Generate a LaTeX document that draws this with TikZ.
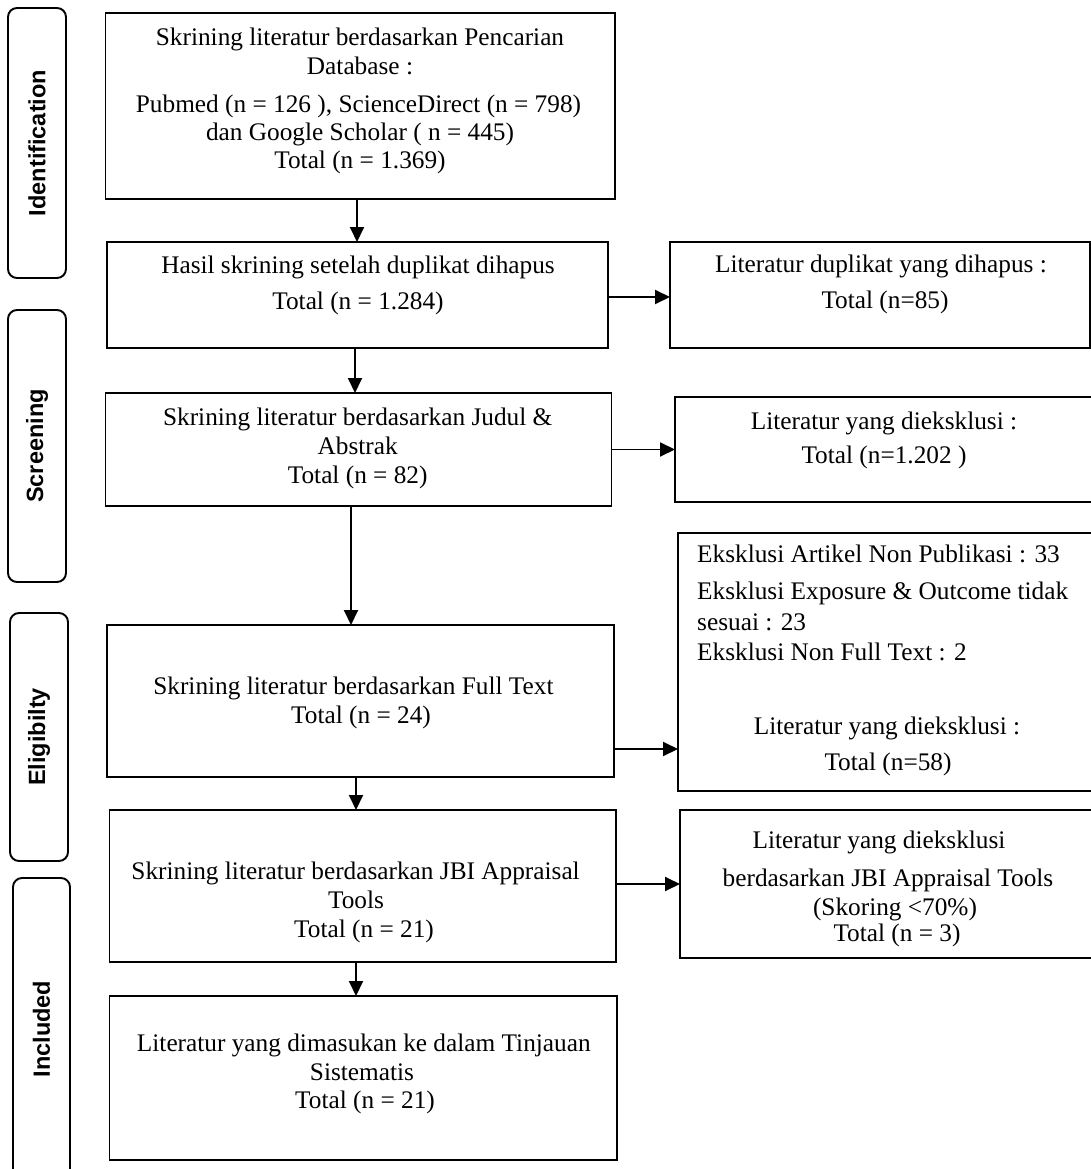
\documentclass[tikz,border=0pt]{standalone}
\usepackage{fontspec}
\setmainfont{Liberation Serif}
\newfontfamily\labfont{Liberation Sans}
\usetikzlibrary{arrows.meta}
\begin{document}
\begin{tikzpicture}[x=1pt,y=-1pt,
  box/.style={draw, line width=1.9pt, inner sep=0pt, outer sep=0pt},
  lab/.style={draw, line width=1.9pt, rounded corners=9pt, inner sep=0pt, outer sep=0pt, rotate=90, font=\labfont\bfseries\fontsize{23.5}{27}\selectfont},
  txt/.style={anchor=base, inner sep=0pt, font=\fontsize{25.3}{30}\selectfont},
  txtl/.style={anchor=base west, inner sep=0pt, font=\fontsize{25.3}{30}\selectfont},
  arr/.style={line width=1.9pt, -{Triangle[length=15pt,width=14pt]}}]
\useasboundingbox (0,0) rectangle (1091,1169);

% phase labels
\node[lab, minimum width=270pt, minimum height=58pt] (l1) at (37,143) {Identification};
\node[lab, minimum width=272pt, minimum height=58pt] (l2) at (37,446) {Screening};
\node[lab, minimum width=248pt, minimum height=58pt] (l3) at (39,737) {Eligibilty};
\node[lab, minimum width=302pt, minimum height=57pt] (l4) at (41.5,1029) {Included};

% main boxes
\node[box, minimum width=509.5pt, minimum height=186pt] (b1) at (360.25,106) {};
\node[box, minimum width=501pt, minimum height=106pt] (b2) at (357.5,295) {};
\node[box, minimum width=506pt, minimum height=113pt] (b3) at (358.5,449.5) {};
\node[box, minimum width=507pt, minimum height=152pt] (b4) at (360.5,701) {};
\node[box, minimum width=506.5pt, minimum height=152pt] (b5) at (362.75,886) {};
\node[box, minimum width=507.5pt, minimum height=164pt] (b6) at (363.25,1078) {};

% right boxes
\node[box, minimum width=420pt, minimum height=106pt] (r1) at (880,295) {};
\node[box, minimum width=420pt, minimum height=105pt] (r2) at (885,449.5) {};
\node[box, minimum width=417pt, minimum height=258pt] (r3) at (886.5,662) {};
\node[box, minimum width=415pt, minimum height=148pt] (r4) at (887.5,884) {};

% texts box 1
\node[txt] (t11) at (360,46) {Skrining literatur berdasarkan Pencarian};
\node[txt] (t12) at (360,75) {Database :};
\node[txt] (t13) at (358.5,113) {Pubmed (n = 126 ), ScienceDirect (n = 798)};
\node[txt] (t14) at (360,141) {dan Google Scholar ( n = 445)};
\node[txt] (t15) at (360,168) {Total (n = 1.369)};
% box 2
\node[txt] (t21) at (358,273) {Hasil skrining setelah duplikat dihapus};
\node[txt] (t22) at (358,309) {Total (n = 1.284)};
% box 3
\node[txt] (t31) at (357.7,425) {Skrining literatur berdasarkan Judul \&};
\node[txt] (t32) at (357.7,454) {Abstrak};
\node[txt] (t33) at (357.7,483) {Total (n = 82)};
% box 4
\node[txt] (t41) at (353.4,694) {Skrining literatur berdasarkan Full Text};
\node[txt] (t42) at (361,723) {Total (n = 24)};
% box 5
\node[txt] (t51) at (355.6,879) {Skrining literatur berdasarkan JBI Appraisal};
\node[txt] (t52) at (356,908) {Tools};
\node[txt] (t53) at (364,937) {Total (n = 21)};
% box 6
\node[txt] (t61) at (363.8,1051) {Literatur yang dimasukan ke dalam Tinjauan};
\node[txt] (t62) at (362,1080) {Sistematis};
\node[txt] (t63) at (365,1108) {Total (n = 21)};
% right texts
\node[txt] (s11) at (881,272) {Literatur duplikat yang dihapus :};
\node[txt] (s12) at (885,308) {Total (n=85)};
\node[txt] (s21) at (884,429) {Literatur yang dieksklusi :};
\node[txt] (s22) at (884,463) {Total (n=1.202 )};
\node[txtl] (s31) at (697,562) {Eksklusi Artikel Non Publikasi : 33};
\node[txtl] (s32) at (697,599) {Eksklusi Exposure \& Outcome tidak};
\node[txtl] (s33) at (697,630) {sesuai : 23};
\node[txtl] (s34) at (697,660) {Eksklusi Non Full Text : 2};
\node[txt] (s35) at (887,734) {Literatur yang dieksklusi :};
\node[txt] (s36) at (888,770) {Total (n=58)};
\node[txt] (s41) at (879,848) {Literatur yang dieksklusi};
\node[txt] (s42) at (888,886) {berdasarkan JBI Appraisal Tools};
\node[txt] (s43) at (895,915) {(Skoring <70\%)};
\node[txt] (s44) at (897,941) {Total (n = 3)};

% connector guides
\coordinate (x1) at (357,0);
\coordinate (x2) at (355,0);
\coordinate (x3) at (351,0);
\coordinate (x4) at (356,0);
\coordinate (x5) at (356,0);
\coordinate (y1) at (0,297);
\coordinate (y2) at (0,449.5);
\coordinate (y3) at (0,749);
\coordinate (y4) at (0,884);

\draw[arr] (b1.south -| x1) -- (b2.north -| x1);
\draw[arr] (b2.south -| x2) -- (b3.north -| x2);
\draw[arr] (b3.south -| x3) -- (b4.north -| x3);
\draw[arr] (b4.south -| x4) -- (b5.north -| x4);
\draw[arr] (b5.south -| x5) -- (b6.north -| x5);

\draw[arr] (b2.east |- y1) -- (r1.west |- y1);
\draw[arr] (b3.east |- y2) -- (r2.west |- y2);
\draw[arr] (b4.east |- y3) -- (r3.west |- y3);
\draw[arr] (b5.east |- y4) -- (r4.west |- y4);
\end{tikzpicture}
\end{document}
